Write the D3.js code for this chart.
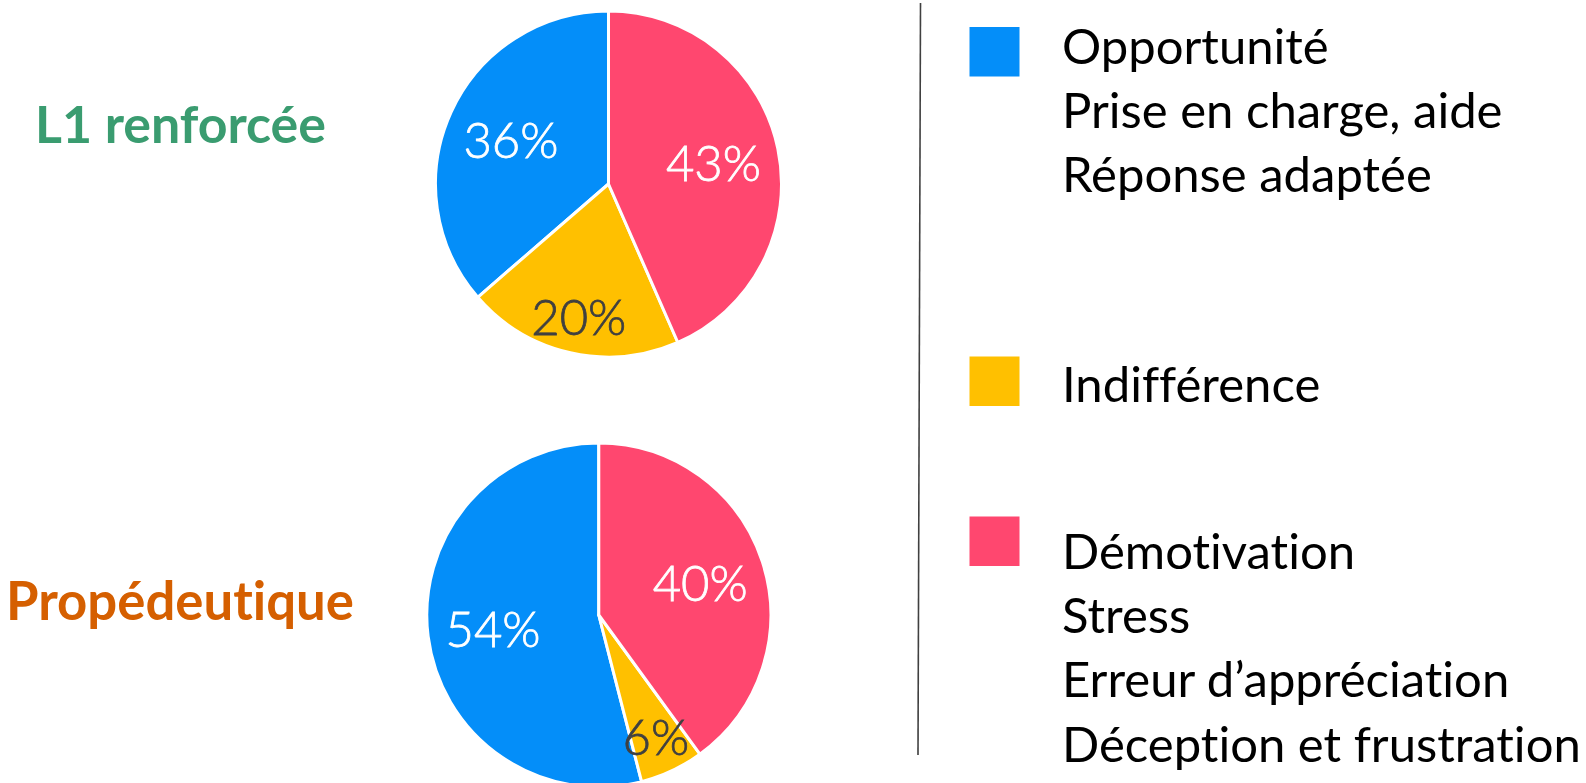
<!DOCTYPE html>
<html>
<head>
<meta charset="utf-8">
<script src="https://cdn.jsdelivr.net/npm/d3@7"></script>
<style>
  html, body { margin: 0; padding: 0; background: #ffffff; }
  svg { display: block; }
  text { font-variant-ligatures: none; font-feature-settings: "liga" 0, "clig" 0, "dlig" 0; }
</style>
</head>
<body>
<svg id="chart" width="1586" height="783"></svg>
<script>
// ---- data ----
const categories = ["Opportunité", "Indifférence", "Démotivation"];
const groupNames = ["L1 renforcée", "Propédeutique"];
const l1Values = [36, 20, 43];
const propValues = [54, 6, 40];
const legendLines = [
  ["Opportunité", "Prise en charge, aide", "Réponse adaptée"],
  ["Indifférence"],
  ["Démotivation", "Stress", "Erreur d’appréciation", "Déception et frustration"]
];

// ---- styles ----
const colors = d3.scaleOrdinal().domain(categories).range(["#048EF9", "#FFC000", "#FF476F"]);
const labelColor = d3.scaleOrdinal().domain(categories).range(["#ffffff", "#404040", "#ffffff"]);
const titleColors = ["#3A9C70", "#D55F00"];
const svg = d3.select("#chart");
const FONT = "Lato, 'Open Sans', sans-serif";

// ---- pies ----
const pies = [
  { values: l1Values, cx: 608.5, cy: 184, r: 173, title: groupNames[0], tx: 35, ty: 143, tw: 291, color: titleColors[0] },
  { values: propValues, cx: 598.8, cy: 615, r: 172, title: groupNames[1], tx: 6, ty: 620, tw: 348, color: titleColors[1] }
];

const pieGen = d3.pie().sort(null).value(d => d.v).startAngle(0).endAngle(-2 * Math.PI);

pies.forEach(p => {
  const data = categories.map((c, i) => ({ c, v: p.values[i] }));
  const arcs = pieGen(data);
  const total = d3.sum(p.values);
  const arc = d3.arc().innerRadius(0).outerRadius(p.r);
  const g = svg.append("g").attr("transform", `translate(${p.cx},${p.cy})`);
  g.selectAll("path.slice").data(arcs).join("path")
    .attr("class", "slice")
    .attr("d", arc)
    .attr("fill", d => colors(d.data.c))
    .attr("stroke", "#ffffff")
    .attr("stroke-width", 3)
    .attr("stroke-linejoin", "round");

  g.selectAll("text.lbl").data(arcs).join("text")
    .attr("class", "lbl")
    .each(function(d) {
      const frac = d.data.v / total < 0.25 ? 0.78 : 0.62;
      const la = d3.arc().innerRadius(p.r * frac).outerRadius(p.r * frac);
      const [x, y] = la.centroid(d);
      d3.select(this).attr("x", x).attr("y", y);
    })
    .attr("text-anchor", "middle")
    .attr("dominant-baseline", "central")
    .attr("font-family", FONT)
    .attr("font-weight", 300)
    .attr("font-size", 49)
    .attr("fill", d => labelColor(d.data.c))
    .attr("stroke", d => labelColor(d.data.c))
    .attr("stroke-width", 0.8)
    .text(d => d.data.v + "%");

  // group title
  const t = svg.append("text")
    .attr("x", p.tx).attr("y", p.ty)
    .attr("font-family", FONT)
    .attr("font-weight", 700)
    .attr("font-size", 48)
    .attr("fill", p.color)
    .text(p.title);
  const w = t.node().getComputedTextLength();
  t.attr("font-size", 48 * p.tw / w);
});

// ---- divider ----
svg.append("line")
  .attr("x1", 920.5).attr("y1", 3)
  .attr("x2", 918).attr("y2", 755)
  .attr("stroke", "#404040")
  .attr("stroke-width", 1.6);

// ---- legend ----
const squareY = [27, 356.5, 516.5];
const lineStart = [64, 401.5, 569];
const lineStep = 64.2;
const legendX = 1062;

// fit font size so longest line matches reference width
const probe = svg.append("text").attr("font-family", FONT).attr("font-size", 50)
  .text("Déception et frustration");
const legendFont = 50 * 519 / probe.node().getComputedTextLength();
probe.remove();

categories.forEach((c, i) => {
  svg.append("rect")
    .attr("x", 969.5).attr("y", squareY[i])
    .attr("width", 50).attr("height", 49.5)
    .attr("fill", colors(c));
  svg.append("g").selectAll("text").data(legendLines[i]).join("text")
    .attr("x", legendX)
    .attr("y", (d, j) => lineStart[i] + j * lineStep)
    .attr("font-family", FONT)
    .attr("font-size", legendFont)
    .attr("fill", "#000000")
    .text(d => d);
});
</script>
</body>
</html>
